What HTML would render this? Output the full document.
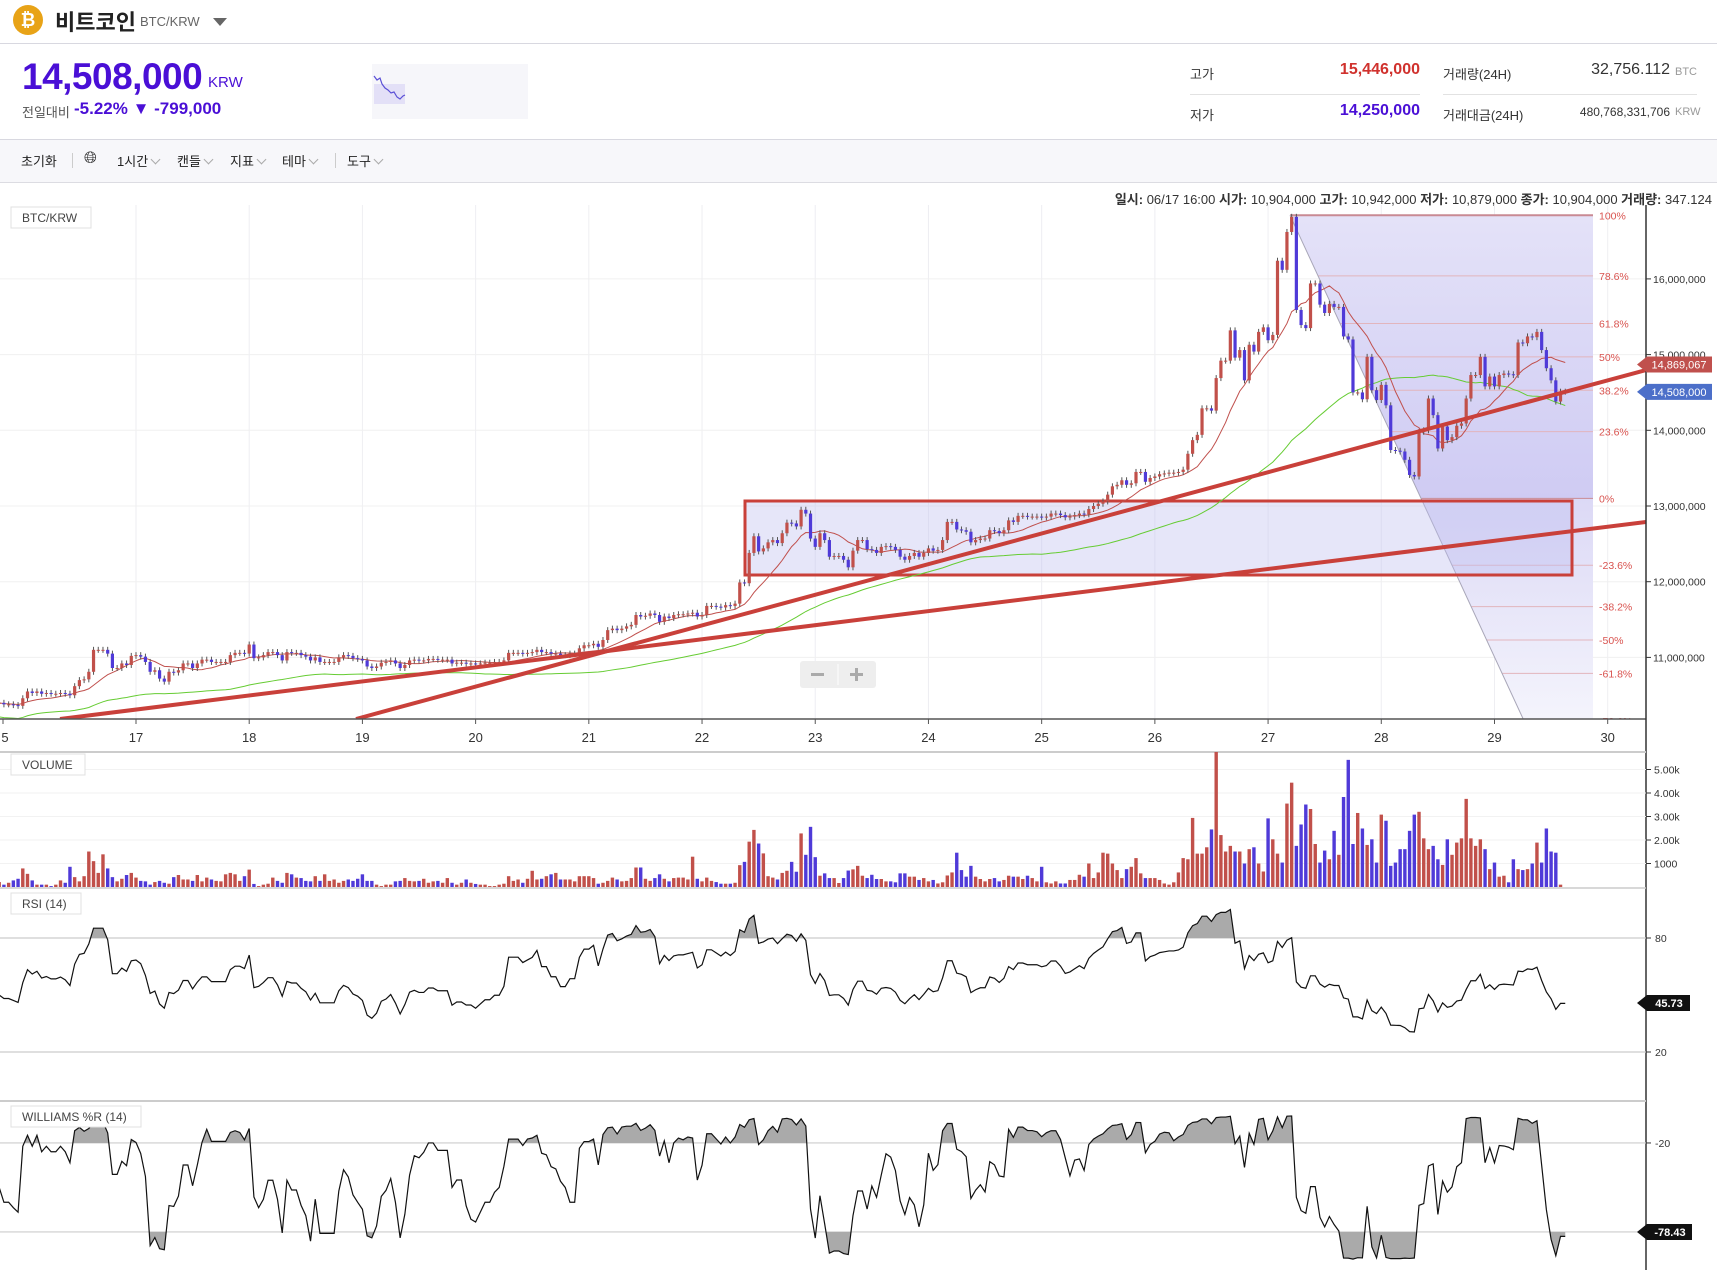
<!DOCTYPE html>
<html><head><meta charset="utf-8">
<style>
*{margin:0;padding:0;box-sizing:border-box}
body{width:1717px;height:1270px;overflow:hidden;background:#fff;font-family:"Liberation Sans","Noto Sans CJK KR",sans-serif;color:#333;position:relative}
.abs{position:absolute;white-space:nowrap}
.kr{font-family:"Liberation Sans","Noto Sans CJK KR",sans-serif}
#chart{position:absolute;left:0;top:0}
.tb{position:absolute;top:151px;font-size:13px;color:#222}
.chev{display:inline-block;width:7px;height:7px;border-right:1px solid #aaa;border-bottom:1px solid #aaa;transform:rotate(45deg);margin-left:4px;position:relative;top:-3px}
</style></head><body>
<div class="abs" style="left:13px;top:5px;width:30px;height:30px;border-radius:50%;background:#e8a317;color:#fff;font-weight:bold;font-size:18px;text-align:center;line-height:30px">₿</div>
<div class="abs kr" style="left:55px;top:5px;font-size:22px;font-weight:bold;color:#222">비트코인</div>
<div class="abs" style="left:140px;top:14px;font-size:13px;color:#666">BTC/KRW</div>
<div class="abs" style="left:213px;top:18px;width:0;height:0;border-left:7px solid transparent;border-right:7px solid transparent;border-top:8px solid #666"></div>
<div class="abs" style="left:0;top:43px;width:1717px;height:1px;background:#d8d8e0"></div>
<div class="abs" style="left:22px;top:56px;font-size:37px;font-weight:bold;color:#4a0fd6;letter-spacing:-0.5px">14,508,000</div>
<div class="abs" style="left:208px;top:74px;font-size:15px;color:#4a0fd6">KRW</div>
<div class="abs kr" style="left:22px;top:102px;font-size:13px;color:#555">전일대비</div>
<div class="abs" style="left:74px;top:99px;font-size:17px;font-weight:bold;color:#4a0fd6">-5.22% ▼ -799,000</div>
<div class="abs" style="left:372px;top:64px;width:156px;height:55px;background:#f6f6fa">
<svg width="156" height="55"><rect x="2" y="20" width="31" height="20" fill="#e3e0f7"/><polyline points="2,12 5,16 8,14 10,20 13,24 16,26 19,29 22,28 25,33 28,35 31,32 33,31" fill="none" stroke="#5a4fd6" stroke-width="1.2"/></svg></div>
<div class="abs kr" style="left:1190px;top:64px;font-size:13px">고가</div>
<div class="abs" style="left:1300px;width:120px;text-align:right;top:61px;font-size:16px;font-weight:600;color:#d0312d">15,446,000</div>
<div class="abs kr" style="left:1443px;top:64px;font-size:13px">거래량(24H)</div>
<div class="abs" style="left:1540px;width:130px;text-align:right;top:61px;font-size:16px;color:#333">32,756.112</div>
<div class="abs" style="left:1675px;top:66px;font-size:11px;color:#999">BTC</div>
<div class="abs" style="left:1190px;top:94px;width:230px;height:1px;background:#e2e2e2"></div>
<div class="abs" style="left:1443px;top:94px;width:254px;height:1px;background:#e2e2e2"></div>
<div class="abs kr" style="left:1190px;top:105px;font-size:13px">저가</div>
<div class="abs" style="left:1300px;width:120px;text-align:right;top:102px;font-size:16px;font-weight:600;color:#4a0fd6">14,250,000</div>
<div class="abs kr" style="left:1443px;top:105px;font-size:13px">거래대금(24H)</div>
<div class="abs" style="left:1540px;width:130px;text-align:right;top:105px;font-size:12px;color:#333">480,768,331,706</div>
<div class="abs" style="left:1675px;top:106px;font-size:11px;color:#999">KRW</div>
<div class="abs" style="left:0;top:139px;width:1717px;height:44px;background:#f7f7fa;border-top:1px solid #d8d8e0;border-bottom:1px solid #dcdce2"></div>
<div class="tb kr" style="left:21px">초기화</div>
<div class="abs" style="left:72px;top:153px;width:1px;height:15px;background:#ccc"></div>
<div class="tb" style="left:84px;top:150px;font-size:16px">🌐︎</div>
<div class="tb kr" style="left:117px">1시간<span class="chev"></span></div>
<div class="tb kr" style="left:177px">캔들<span class="chev"></span></div>
<div class="tb kr" style="left:230px">지표<span class="chev"></span></div>
<div class="tb kr" style="left:282px">테마<span class="chev"></span></div>
<div class="abs" style="left:335px;top:153px;width:1px;height:15px;background:#ccc"></div>
<div class="tb kr" style="left:347px">도구<span class="chev"></span></div>
<div class="abs kr" style="right:5px;top:189px;font-size:13px;color:#333"><b>일시:</b> 06/17 16:00 <b>시가:</b> 10,904,000 <b>고가:</b> 10,942,000 <b>저가:</b> 10,879,000 <b>종가:</b> 10,904,000 <b>거래량:</b> 347.124</div>

<svg id="chart" width="1717" height="1270"></svg>

<script>
const closes = [
10.40,10.38,10.38,10.37,10.36,10.46,10.55,10.53,10.55,10.52,10.53,10.52,10.52,10.53,10.52,10.50,10.62,10.70,10.71,10.81,11.10,11.10,11.10,11.05,10.86,10.86,10.92,10.90,11.02,11.03,11.01,10.94,10.81,10.83,10.72,10.68,10.81,10.80,10.83,10.92,10.92,10.86,10.92,10.97,10.97,10.94,10.94,10.94,10.94,11.03,11.06,11.06,11.05,11.17,10.99,11.00,11.03,11.07,11.07,11.03,10.96,11.07,11.06,11.06,11.03,11.01,10.96,11.00,10.94,10.94,10.94,10.94,11.00,11.03,11.02,10.99,10.98,10.96,10.88,10.86,10.88,10.93,10.94,10.96,10.92,10.86,10.90,10.96,10.97,10.96,10.96,10.98,10.98,10.97,10.97,10.97,10.92,10.93,10.93,10.92,10.92,10.91,10.92,10.93,10.93,10.94,10.94,10.96,11.06,11.06,11.06,
11.05,11.06,11.07,11.10,11.07,11.07,11.05,11.05,11.03,11.03,11.05,11.05,11.12,11.16,11.16,11.18,11.14,11.23,11.36,11.38,11.36,11.38,11.41,11.43,11.56,11.54,11.55,11.58,11.56,11.47,11.54,11.52,11.56,11.57,11.57,11.58,11.59,11.54,11.56,11.68,11.68,11.67,11.66,11.69,11.68,11.71,11.99,11.98,12.38,12.60,12.40,12.44,12.52,12.55,12.51,12.64,12.78,12.77,12.73,12.95,12.90,12.57,12.46,12.64,12.55,12.33,12.34,12.34,12.29,12.19,12.41,12.55,12.55,12.43,12.42,12.38,12.46,12.47,12.46,12.42,12.33,12.29,12.34,12.38,12.33,12.38,12.44,12.41,12.42,12.55,12.79,12.79,12.69,12.68,12.66,12.52,12.55,12.57,12.57,12.68,12.67,12.64,12.68,12.81,12.79,
12.87,12.87,12.86,12.86,12.86,12.85,12.86,12.90,12.90,12.88,12.85,12.86,12.88,12.90,12.89,12.96,13.00,13.03,13.06,13.15,13.26,13.28,13.34,13.28,13.30,13.45,13.45,13.32,13.37,13.39,13.42,13.43,13.44,13.44,13.45,13.48,13.69,13.87,13.94,14.29,14.29,14.26,14.69,14.92,14.92,15.32,14.96,15.06,14.66,15.13,15.04,15.30,15.36,15.19,15.26,16.24,16.12,16.62,16.82,15.59,
15.39,15.35,15.94,15.94,15.66,15.55,15.67,15.63,15.63,15.24,15.20,14.50,14.50,14.41,14.97,14.53,14.40,14.60,14.33,13.74,13.73,13.72,13.61,13.41,13.39,13.98,14.00,14.42,14.20,13.76,14.05,13.87,13.91,14.06,14.09,14.42,14.73,14.73,14.97,14.58,14.71,14.58,14.73,14.75,14.74,14.73,15.16,15.15,15.24,15.23,15.30,15.06,14.82,14.66,14.38,14.51,14.51];
const volumes = [
.21,.10,.18,.28,.35,.79,.56,.28,.10,.10,.10,.04,.10,.28,.18,.86,.42,.24,.46,1.51,1.10,.60,1.39,.79,.42,.24,.35,.51,.60,.40,.26,.24,.10,.21,.26,.18,.14,.42,.51,.32,.32,.26,.51,.24,.40,.32,.26,.24,.54,.60,.54,.26,.46,.74,.13,.04,.10,.14,.40,.26,.18,.60,.54,.40,.38,.26,.24,.46,.26,.54,.26,.32,.18,.26,.32,.26,.35,.54,.26,.26,.10,.04,.10,.10,.24,.26,.38,.26,.24,.26,.35,.18,.24,.26,.18,.38,.18,.10,.18,.32,.18,.13,.10,.10,.04,.04,.10,.14,.46,.26,.32,.18,.35,.69,.32,.35,.46,.54,.60,.32,.32,.32,.24,.46,.46,.46,.38,.14,.18,.26,.40,.32,.24,.26,.38,.83,.83,.35,.26,.38,.54,.35,.24,.38,.40,.40,.32,1.29,.35,.24,.40,.26,.21,.14,.14,.14,.18,.93,1.07,1.93,2.43,1.85,1.43,.46,.40,.32,.60,.69,1.07,.65,
2.28,1.37,2.56,1.27,0.48,0.58,0.38,0.38,0.17,0.38,0.70,0.75,0.90,0.48,0.38,0.52,0.34,0.34,0.24,0.24,0.20,0.58,0.58,0.44,0.44,0.30,0.38,0.24,0.30,0.15,0.20,0.49,0.62,1.46,0.72,0.44,0.90,0.44,0.34,0.24,0.34,0.38,0.24,0.30,0.48,0.44,0.44,0.34,0.48,0.38,0.24,0.86,0.20,0.15,0.24,0.15,0.15,0.30,0.30,0.52,0.44,1.00,0.38,0.62,1.46,1.42,1.00,0.72,0.38,0.76,0.86,1.23,0.58,0.38,0.38,0.38,0.30,0.15,0.10,0.20,0.62,1.23,1.18,2.94,1.42,1.42,1.69,2.45,5.76,2.21,1.51,1.75,1.51,1.51,1.00,1.61,1.69,1.00,0.66,2.92,2.03,1.42,1.04,3.55,4.44,1.75,2.66,3.51,3.32,1.83,1.04,1.55,1.18,2.39,1.37,3.83,5.41,1.83,3.15,2.49,1.79,2.03,1.04,3.08,2.82,0.90,1.04,1.61,1.61,2.39,3.08,3.20,2.07,1.61,1.75,1.18,0.94,2.03,1.37,1.89,2.07,3.75,2.07,1.75,2.03,1.61,0.76,1.04,0.44,0.48,0.20,1.18,0.76,0.72,0.76,1.00,1.89,1.04,2.49,1.51,1.46,0.10];
const dayLabels = ["17","18","19","20","21","22","23","24","25","26","27","28","29","30"];
const priceTicks = [11,12,13,14,15,16];
const priceTickLabels = ["11,000,000","12,000,000","13,000,000","14,000,000","15,000,000","16,000,000"];
const volTicks = [1,2,3,4,5];
const volTickLabels = ["1000","2.00k","3.00k","4.00k","5.00k"];
const fibLevels = [1,0.786,0.618,0.5,0.382,0.236,0,-0.236,-0.382,-0.5,-0.618,-0.786];
const fibLabels = ["100%","78.6%","61.8%","50%","38.2%","23.6%","0%","-23.6%","-38.2%","-50%","-61.8%","-78.6%"];
const fibHigh = 16.84, fibLow = 13.10;
const lastPrice = 14.508, lastPriceLabel = "14,508,000";
const maMark = 14.869067, maMarkLabel = "14,869,067";
const rsiLast = "45.73", wrLast = "-78.43";

const NS = "http://www.w3.org/2000/svg";
const svg = document.getElementById('chart');
function el(tag, attrs, parent){const e=document.createElementNS(NS,tag);for(const k in attrs)e.setAttribute(k,attrs[k]);(parent||svg).appendChild(e);return e;}
const xOf = i => -0.8 + i*4.717;
const dayX = d => xOf(29 + (d-17)*24);
const yP = p => 506 - (p-13)*75.7;
const yV = v => 887 - v*23.5;
const yR = r => 1090 - r*1.9;
const yWR = w => 1113.3 - w*1.483;
const RED="#c1504a", BLUE="#4f3ad8";
const AX = 1646;

const defs = el('defs',{});
const cp = el('clipPath',{id:'pc'},defs); el('rect',{x:0,y:205,width:AX,height:514},cp);
const gr = el('linearGradient',{id:'fibg',x1:0,y1:0,x2:0,y2:1},defs);
el('stop',{offset:'0','stop-color':'#e4e2f8'},gr); el('stop',{offset:'1','stop-color':'#cfcbf3'},gr);
const gr2 = el('linearGradient',{id:'fibg2',x1:0,y1:0,x2:0,y2:1},defs);
el('stop',{offset:'0','stop-color':'#dcd9f6'},gr2); el('stop',{offset:'1','stop-color':'#f4f4fc'},gr2);

const grid = el('g',{});


dayLabels.forEach(d=>{const x=dayX(+d); if(x<AX) el('line',{x1:x,y1:205,x2:x,y2:719,stroke:'#eeeef2','stroke-width':1},grid);});
priceTicks.forEach(p=>el('line',{x1:0,y1:yP(p),x2:AX,y2:yP(p),stroke:'#f0f0f0','stroke-width':1},grid));

const pg = el('g',{'clip-path':'url(#pc)'});
const slope = 2.16, fx0 = 1290, fx1 = 1593;
const yF = lv => yP(fibLow + (fibHigh-fibLow)*lv);
const dxAt = y => fx0 + (y - yF(1))/slope;
const fz = el('polygon',{points:`${fx0},${yF(1)} ${fx1},${yF(1)} ${fx1},${yF(0)} ${dxAt(yF(0))},${yF(0)}`,fill:'url(#fibg)'},pg);


const fz2 = el('polygon',{points:`${dxAt(yF(0))},${yF(0)} ${fx1},${yF(0)} ${fx1},719 ${dxAt(719)},719`,fill:'url(#fibg2)'},pg);


fibLevels.forEach((lv,k)=>{const y=yF(lv);
 const ln=el('line',{x1:lv===1?fx0:Math.max(fx0,dxAt(y)),y1:y,x2:fx1,y2:y,stroke:lv===1||lv===0?'#c98a94':'#e2b5bd','stroke-width':lv===1?2:1},pg);
 
 
 const t=el('text',{x:1599,y:y+4,'font-size':10.5,fill:'#d9534f'},pg); t.textContent=fibLabels[k];
 
 });
const fd = el('line',{x1:fx0,y1:yF(1),x2:dxAt(719),y2:719,stroke:'#a8a6b8','stroke-width':1},pg);



const box = el('rect',{x:745,y:501,width:827,height:74,fill:'rgba(190,190,240,0.38)',stroke:'#c9403a','stroke-width':3},pg);



function sma(n){return closes.map((c,i)=>{const s=Math.max(0,i-n+1);let t=0;for(let j=s;j<=i;j++)t+=closes[j];return t/(i-s+1);});}
const maFast = sma(12), maSlow = sma(50);
const mfp = el('polyline',{points:maSlow.map((v,i)=>xOf(i)+','+(yP(v)+14)).join(' '),fill:'none',stroke:'#66cc33','stroke-width':1},pg);


const mfr = el('polyline',{points:maFast.map((v,i)=>xOf(i)+','+yP(v)).join(' '),fill:'none',stroke:'#c0504d','stroke-width':1},pg);



closes.forEach((c,i)=>{const o=i?closes[i-1]:c;const up=c>=o;const x=xOf(i);
 const yt=yP(Math.max(o,c)), yb=yP(Math.min(o,c));
 const g=el('g',{},pg);
 
 
 el('line',{x1:x,y1:yt-3,x2:x,y2:yb+3,stroke:'#555','stroke-width':1},g);
 el('rect',{x:x-1.6,y:yt,width:3.2,height:Math.max(1,yb-yt),fill:up?RED:BLUE},g);});

const t1 = el('line',{x1:60,y1:719,x2:AX,y2:522,stroke:'#c9403a','stroke-width':4},pg);


const t2 = el('line',{x1:356,y1:719,x2:AX,y2:370,stroke:'#c9403a','stroke-width':4},pg);



const zc = el('g',{});


el('rect',{x:800,y:661,width:76,height:27,rx:3,fill:'#eeeeee'},zc);
el('line',{x1:838,y1:664,x2:838,y2:685,stroke:'#fff','stroke-width':1},zc);
el('rect',{x:811,y:673,width:13,height:3,fill:'#aaa'},zc);
el('rect',{x:850,y:673,width:13,height:3,fill:'#aaa'},zc);
el('rect',{x:855,y:668,width:3,height:13,fill:'#aaa'},zc);

el('line',{x1:0,y1:719,x2:AX,y2:719,stroke:'#555','stroke-width':1.5});
el('line',{x1:AX,y1:205,x2:AX,y2:1270,stroke:'#333','stroke-width':1.5});
priceTicks.forEach((p,k)=>{el('line',{x1:AX,y1:yP(p),x2:AX+5,y2:yP(p),stroke:'#333'});
 const t=el('text',{x:AX+7,y:yP(p)+4,'font-size':10.5,fill:'#333'});t.textContent=priceTickLabels[k];
 
 });
dayLabels.forEach(d=>{const x=dayX(+d);el('line',{x1:x,y1:719,x2:x,y2:724,stroke:'#555'});
 const t=el('text',{x:x,y:742,'font-size':13,fill:'#333','text-anchor':'middle'});t.textContent=d;
 
 });
el('line',{x1:3,y1:719,x2:3,y2:724,stroke:'#555'});
const t16=el('text',{x:5,y:742,'font-size':13,fill:'#333','text-anchor':'middle'});t16.textContent="5";

function tag(y,bg,txt,name){const g=el('g',{});
 
 
 el('polygon',{points:`${AX-9},${y} ${AX+1},${y-8} ${1712},${y-8} ${1712},${y+8} ${AX+1},${y+8}`,fill:bg},g);
 const t=el('text',{x:1679,y:y+4,'font-size':11,fill:'#fff','text-anchor':'middle'},g);t.textContent=txt;}
tag(yP(maMark),'#c0504d',maMarkLabel,'ma-price-tag');
tag(yP(lastPrice),'#4c6fc9',lastPriceLabel,'last-price-tag');

function plabel(x,y,w,txt,name){const g=el('g',{});
 
 
 el('rect',{x:x,y:y,width:w,height:21,fill:'#fff',stroke:'#e0e0e0'},g);
 const t=el('text',{x:x+11,y:y+15,'font-size':12,fill:'#444'},g);t.textContent=txt;}
plabel(11,207,80,'BTC/KRW','price-pane-label');

el('line',{x1:0,y1:752,x2:AX,y2:752,stroke:'#ccc','stroke-width':2});
volTicks.forEach((v,k)=>{el('line',{x1:0,y1:yV(v),x2:AX,y2:yV(v),stroke:'#f2f2f2'});
 el('line',{x1:AX,y1:yV(v),x2:AX+5,y2:yV(v),stroke:'#333'});
 const t=el('text',{x:AX+8,y:yV(v)+4,'font-size':10.5,fill:'#333'});t.textContent=volTickLabels[k];
 
 });
volumes.forEach((v,i)=>{if(i>=closes.length)return;const o=i?closes[i-1]:closes[i];const up=closes[i]>=o;
 const b=el('rect',{x:xOf(i)-1.7,y:Math.max(752,yV(v)),width:3.4,height:887-Math.max(752,yV(v)),fill:up?RED:BLUE});
 
 });
el('line',{x1:0,y1:888,x2:AX,y2:888,stroke:'#ccc','stroke-width':1.5});
plabel(11,754,74,'VOLUME','volume-pane-label');

// RSI (Wilder, seeded neutral)
function rsi(n){const out=[];let ag=0.02,al=0.02;closes.forEach((c,i)=>{if(i===0){out.push(50);return;}
 const d=c-closes[i-1],g=Math.max(d,0),l=Math.max(-d,0);ag=(ag*(n-1)+g)/n;al=(al*(n-1)+l)/n;
 out.push(al===0?100:100-100/(1+ag/al));});return out;}
const rsiVals = rsi(14);
[80,20].forEach(v=>{el('line',{x1:0,y1:yR(v),x2:AX,y2:yR(v),stroke:'#ccc','stroke-width':1.2});
 el('line',{x1:AX,y1:yR(v),x2:AX+5,y2:yR(v),stroke:'#333'});
 const t=el('text',{x:AX+9,y:yR(v)+4,'font-size':10.5,fill:'#333'});t.textContent=String(v);});
const rc = el('clipPath',{id:'rc'},defs); el('rect',{x:0,y:880,width:AX,height:yR(80)-880},rc);
const rfill = el('polygon',{points:`${xOf(0)},${yR(80)} `+rsiVals.map((v,i)=>xOf(i)+','+yR(v)).join(' ')+` ${xOf(rsiVals.length-1)},${yR(80)}`,fill:'#aaa','clip-path':'url(#rc)'});


const rl = el('polyline',{points:rsiVals.map((v,i)=>xOf(i)+','+yR(v)).join(' '),fill:'none',stroke:'#111','stroke-width':1.2});


plabel(11,893,70,'RSI (14)','rsi-pane-label');
const rt=el('g',{});


el('polygon',{points:`${AX-9},1003 ${AX+1},995 1690,995 1690,1011 ${AX+1},1011`,fill:'#111'},rt);
const rtt=el('text',{x:1669,y:1007,'font-size':11,fill:'#fff','text-anchor':'middle',"font-weight":"bold"},rt);rtt.textContent=rsiLast;

// Williams %R
el('line',{x1:0,y1:1101,x2:AX,y2:1101,stroke:'#ccc','stroke-width':2});
const wrVals = closes.map((c,i)=>{const s=Math.max(0,i-13);let hh=-1e9,ll=1e9;for(let j=s;j<=i;j++){hh=Math.max(hh,closes[j]);ll=Math.min(ll,closes[j]);}
 hh+=0.04; ll-=0.04;
 return (hh-c)/(hh-ll)*-100;});
[-20,-80].forEach(v=>{el('line',{x1:0,y1:yWR(v),x2:AX,y2:yWR(v),stroke:'#ccc','stroke-width':1.2});
 el('line',{x1:AX,y1:yWR(v),x2:AX+5,y2:yWR(v),stroke:'#333'});
 const t=el('text',{x:AX+9,y:yWR(v)+4,'font-size':10.5,fill:'#333'});t.textContent=String(v);});
const wc1 = el('clipPath',{id:'wc1'},defs); el('rect',{x:0,y:1101,width:AX,height:yWR(-20)-1101},wc1);
const wc2 = el('clipPath',{id:'wc2'},defs); el('rect',{x:0,y:yWR(-80),width:AX,height:1270-yWR(-80)},wc2);
const wpts = wrVals.map((v,i)=>xOf(i)+','+yWR(v)).join(' ');
const wf1 = el('polygon',{points:`${xOf(0)},${yWR(-20)} ${wpts} ${xOf(wrVals.length-1)},${yWR(-20)}`,fill:'#aaa','clip-path':'url(#wc1)'});


const wf2 = el('polygon',{points:`${xOf(0)},${yWR(-80)} ${wpts} ${xOf(wrVals.length-1)},${yWR(-80)}`,fill:'#aaa','clip-path':'url(#wc2)'});


const wl = el('polyline',{points:wpts,fill:'none',stroke:'#111','stroke-width':1.2});


plabel(11,1106,130,'WILLIAMS %R (14)','williams-pane-label');
const wt=el('g',{});


el('polygon',{points:`${AX-9},1232 ${AX+1},1224 1692,1224 1692,1240 ${AX+1},1240`,fill:'#111'},wt);
const wtt=el('text',{x:1670,y:1236,'font-size':11,fill:'#fff','text-anchor':'middle',"font-weight":"bold"},wt);wtt.textContent=wrLast;
</script>
</body></html>
